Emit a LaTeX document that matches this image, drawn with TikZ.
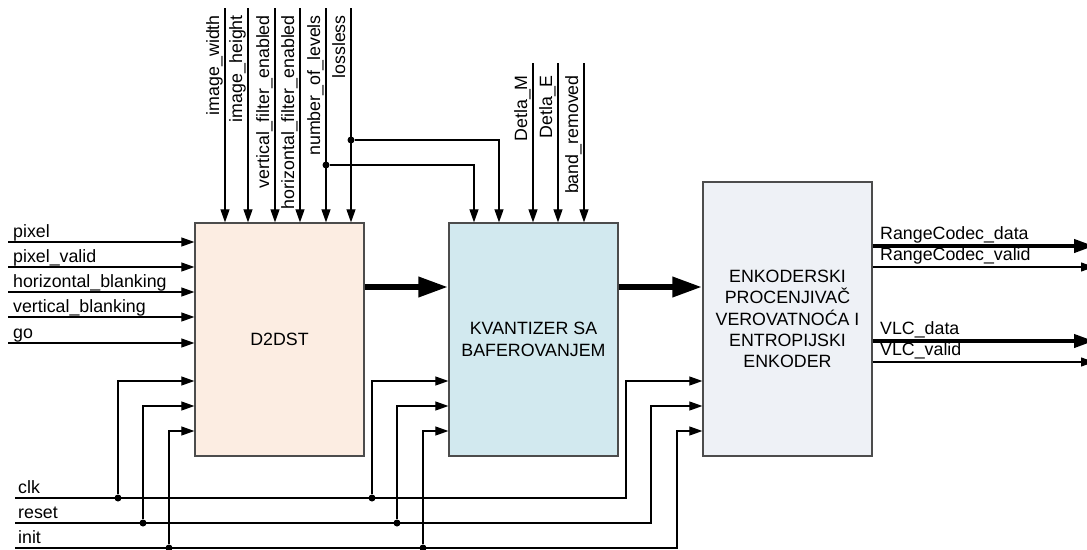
\documentclass[tikz,border=0pt]{standalone}
\usepackage{fontspec}
\setmainfont{Liberation Sans}
\usetikzlibrary{arrows.meta,calc,positioning}
\definecolor{d2dstboja}{RGB}{252,237,226}
\definecolor{kvantboja}{RGB}{210,233,239}
\definecolor{enkboja}{RGB}{238,241,246}
\tikzset{
 blok/.style={draw=black!70,line width=1.3pt,minimum width=169pt,align=center,inner sep=0pt},
 zica/.style={line width=1.1pt},
 sig/.style={zica,-{Triangle[length=13pt,width=9pt]}},
 magistrala/.style={line width=6.5pt,-{Triangle[length=30pt,width=19pt]}},
 izlaz/.style={line width=4pt,-{Triangle[length=20pt,width=13pt]}},
 tacka/.style={circle,fill,inner sep=0pt,minimum size=7pt},
 lab/.style={inner sep=0pt,anchor=base west},
 vlab/.style={rotate=90,anchor=base east,inner sep=0pt},
}
\begin{document}
\begin{tikzpicture}[x=1pt,y=-1pt,>=Latex,font=\fontsize{17.8}{21.3}\selectfont]
\useasboundingbox (0,0) rectangle (1087,549);
% blokovi
\node[blok,fill=d2dstboja,minimum height=233pt] (d2dst) at (279.5,339.5) {D2DST};
\node[blok,fill=kvantboja,minimum height=233pt] (kvant) at (533.5,339.5) {KVANTIZER SA\\BAFEROVANJEM};
\node[blok,fill=enkboja,minimum height=274pt] (enk) at (787.5,319)
 {ENKODERSKI\\PROCENJIVAČ\\VEROVATNOĆA I\\ENTROPIJSKI\\ENKODER};
% ulazi levo
\foreach \t/\y [count=\i] in {pixel/242,pixel\_valid/267,horizontal\_blanking/292,vertical\_blanking/317,go/343}{
 \coordinate (u\i) at (8,\y);
 \node[lab] (ul\i) at (13,{\y-5}) {\t};
 \draw[sig] (u\i) -- (u\i -| d2dst.west);
}
% parametri odozgo
\foreach \t/\x [count=\i] in {image\_width/225,image\_height/248,vertical\_filter\_enabled/275,horizontal\_filter\_enabled/300,number\_of\_levels/326,lossless/351}{
 \coordinate (p\i) at (\x,8);
 \node[vlab] (pl\i) at ({\x-6},15) {\t};
 \draw[sig] (p\i) -- (p\i |- d2dst.north);
}
\node[tacka] (nd) at (326,165) {};
\node[tacka] (ld) at (351,140) {};
\draw[sig] (nd) -| (kvant.north -| 474,0);
\draw[sig] (ld) -| (kvant.north -| 499,0);
\foreach \t/\x [count=\i] in {Detla\_M/533,Detla\_E/558,band\_removed/584}{
 \coordinate (q\i) at (\x,63);
 \node[vlab] (ql\i) at ({\x-6},75) {\t};
 \draw[sig] (q\i) -- (q\i |- kvant.north);
}
% podaci izmedju blokova
\draw[magistrala] (d2dst.east |- 0,287) -- (kvant.west |- 0,287);
\draw[magistrala] (kvant.east |- 0,287) -- (enk.west |- 0,287);
% izlazi
\foreach \t/\y/\st [count=\i] in {RangeCodec\_data/246/izlaz,RangeCodec\_valid/267/sig,VLC\_data/341/izlaz,VLC\_valid/362/sig}{
 \coordinate (o\i) at (1094,\y);
 \node[lab] (ol\i) at (880,{\y-7}) {\t};
 \draw[\st] (o\i -| enk.east) -- (o\i);
}
% clk, reset, init
\foreach \s/\y/\ya/\xa/\xb/\xc in {clk/498/381/118/372/626,reset/523/406/143/397/651,init/548/431/169/423/677}{
 \coordinate (\s) at (15,\y);
 \node[lab] (\s l) at (18,{\y-5}) {\s};
 \node[tacka] (\s a) at (\xa,\y) {};
 \node[tacka] (\s b) at (\xb,\y) {};
 \draw[sig] (\s) -- (\xc,\y) |- (enk.west |- 0,\ya);
 \draw[sig] (\s a) |- (d2dst.west |- 0,\ya);
 \draw[sig] (\s b) |- (kvant.west |- 0,\ya);
}
\end{tikzpicture}
\end{document}
